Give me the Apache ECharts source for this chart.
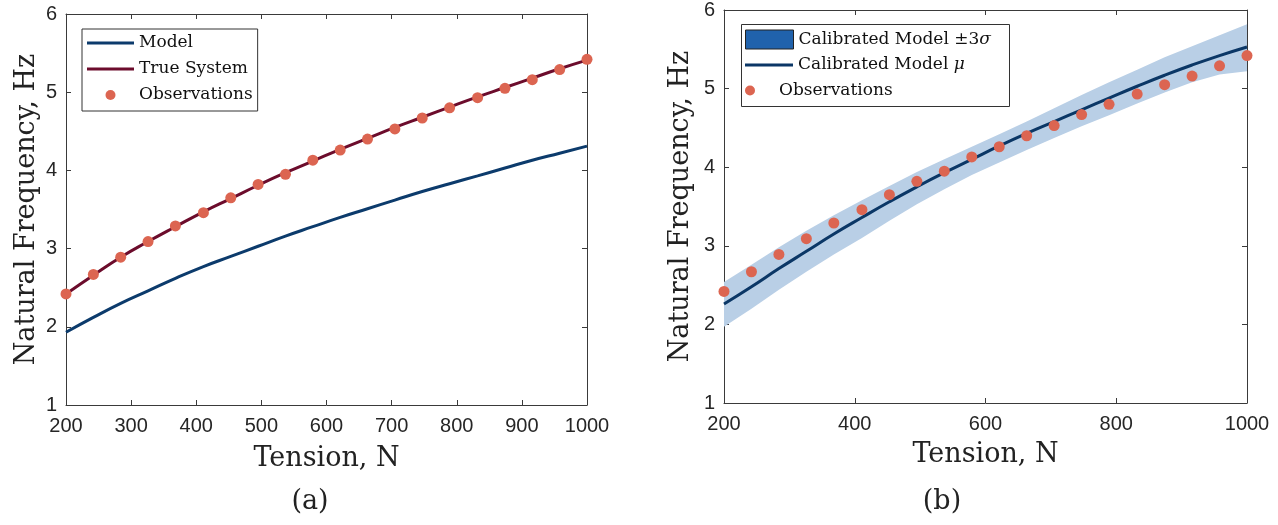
<!DOCTYPE html>
<html>
<head>
<meta charset="utf-8">
<script src="https://cdn.jsdelivr.net/npm/echarts@6.0.0/dist/echarts.min.js"></script>
<style>
    html, body { margin: 0; padding: 0; background: #fff; }
    #freq-chart { width: 1278px; height: 525px; }
</style>
</head>
<body>
<div id="freq-chart"></div>
<script>
// tension values where the observations were taken (N)
let tension = [200, 242, 284, 326, 368, 411, 453, 495, 537, 579, 621, 663, 705, 747, 789, 832, 874, 916, 958, 1000];

// (a) uncalibrated model / true system / observations (Hz)
let modelFreq = [1.93, 2.12, 2.30, 2.46, 2.62, 2.77, 2.90, 3.03, 3.16, 3.28, 3.40, 3.51, 3.62, 3.73, 3.83, 3.93, 4.03, 4.13, 4.22, 4.31];
let trueFreq = [2.42, 2.66, 2.89, 3.09, 3.28, 3.47, 3.64, 3.81, 3.97, 4.12, 4.27, 4.41, 4.55, 4.68, 4.81, 4.94, 5.06, 5.18, 5.30, 5.41];
let obsFreq = [2.42, 2.67, 2.89, 3.09, 3.29, 3.46, 3.65, 3.82, 3.95, 4.13, 4.26, 4.40, 4.53, 4.67, 4.80, 4.93, 5.05, 5.16, 5.29, 5.42];

// (b) calibrated model mean and +-3 sigma band (Hz)
let calMean = [2.26, 2.48, 2.71, 2.93, 3.15, 3.36, 3.56, 3.75, 3.93, 4.10, 4.27, 4.43, 4.58, 4.73, 4.88, 5.03, 5.17, 5.30, 5.42, 5.53];
let calUpper = [2.54, 2.76, 2.98, 3.19, 3.39, 3.58, 3.76, 3.94, 4.10, 4.26, 4.42, 4.58, 4.75, 4.92, 5.08, 5.24, 5.40, 5.54, 5.68, 5.82];
let calLower = [1.97, 2.20, 2.44, 2.67, 2.89, 3.10, 3.32, 3.53, 3.72, 3.90, 4.06, 4.22, 4.37, 4.52, 4.66, 4.81, 4.95, 5.08, 5.18, 5.22];

// axis ranges / tick steps
let xRange = [200, 1000];
let yRange = [1, 6];
let xStepA = 100;
let xStepB = 200;
let yStep = 1;

let serifFont = 'DejaVu Serif';
let sansFont = 'Liberation Sans';
let axisColor = '#3a3a3a';

function pairs(xs, ys){
    return xs.map(function(x, i){ return [x, ys[i]]; });
}

// one axis of the boxed (matlab style) frame, ticks pointing inward
function frameAxis(gridIndex, position, min, max, step, withLabel, name, nameGap, labelMargin){
    let ax = {
        type: 'value',
        gridIndex: gridIndex,
        position: position,
        min: min,
        max: max,
        interval: step,
        axisLine: { show: true, onZero: false, lineStyle: { color: axisColor, width: 1 } },
        axisTick: { show: true, inside: true, length: 5, lineStyle: { color: axisColor, width: 1 } },
        axisLabel: {
            show: withLabel,
            margin: labelMargin,
            color: '#262626',
            fontFamily: sansFont,
            fontSize: 20,
            formatter: function(v){ return String(v); }
        },
        splitLine: { show: false }
    };
    if(name){
        ax.name = name;
        ax.nameLocation = 'middle';
        ax.nameGap = nameGap;
        ax.nameTextStyle = { color: '#222', fontFamily: serifFont, fontSize: 27 };
    }
    return ax;
}

function legendText(name){
    if(name === 'Calibrated Model ±3σ') return 'Calibrated Model ±3{i|σ}';
    if(name === 'Calibrated Model μ') return 'Calibrated Model {i|μ}';
    return name;
}

let legendTextStyle = {
    color: '#111',
    fontFamily: serifFont,
    fontSize: 17,
    lineHeight: 26,
    rich: {
        i: { fontFamily: serifFont, fontSize: 17, fontStyle: 'italic', color: '#111', lineHeight: 26 }
    }
};

let lineIcon = 'path://M0,0h48v3h-48z';

// +-3 sigma band as one polygon: upper edge forward, lower edge back
function renderBand(params, api){
    if(params.dataIndex !== 0) return;
    let pts = [];
    for(let i = 0; i < tension.length; i++){
        pts.push(api.coord([tension[i], calUpper[i]]));
    }
    for(let i = tension.length - 1; i >= 0; i--){
        pts.push(api.coord([tension[i], calLower[i]]));
    }
    return {
        type: 'polygon',
        shape: { points: pts },
        style: { fill: '#b9cfe6', stroke: null }
    };
}

let chart = "";
function optionChart(){
    chart = echarts.init(document.getElementById("freq-chart"));
    chart.setOption(settingOption());
}

function settingOption(){
    let option = {
        animation: false,
        backgroundColor: '#fff',
        grid: [
            { left: 66, top: 14, width: 521, height: 391 },
            { left: 724, top: 9, width: 523, height: 394 }
        ],
        xAxis: [
            frameAxis(0, 'bottom', xRange[0], xRange[1], xStepA, true, 'Tension, N', 40, 11),
            frameAxis(0, 'top', xRange[0], xRange[1], xStepA, false),
            frameAxis(1, 'bottom', xRange[0], xRange[1], xStepB, true, 'Tension, N', 38, 11),
            frameAxis(1, 'top', xRange[0], xRange[1], xStepB, false)
        ],
        yAxis: [
            frameAxis(0, 'left', yRange[0], yRange[1], yStep, true, 'Natural Frequency, Hz', 26, 9),
            frameAxis(0, 'right', yRange[0], yRange[1], yStep, false),
            frameAxis(1, 'left', yRange[0], yRange[1], yStep, true, 'Natural Frequency, Hz', 30, 9),
            frameAxis(1, 'right', yRange[0], yRange[1], yStep, false)
        ],
        legend: [
            {   // (a) legend, one bordered box
                left: 82, top: 29,
                orient: 'vertical',
                padding: [1, 5, 3, 5],
                itemGap: 0,
                itemWidth: 47,
                itemHeight: 10,
                itemTextGap: 5,
                borderColor: '#333', borderWidth: 1,
                backgroundColor: '#fff',
                selectedMode: false,
                textStyle: legendTextStyle,
                data: [
                    { name: 'Model', icon: lineIcon, itemStyle: { color: '#0c3b6c', borderWidth: 0 } },
                    { name: 'True System', icon: lineIcon, itemStyle: { color: '#6c0c2c', borderWidth: 0 } },
                    { name: 'Observations', icon: 'circle', itemStyle: { color: '#dc6551', borderWidth: 0 } }
                ]
            },
            {   // (b) band entry
                left: 745, top: 26.5,
                padding: 0,
                itemWidth: 48, itemHeight: 19, itemTextGap: 4,
                selectedMode: false,
                textStyle: legendTextStyle,
                formatter: legendText,
                data: [{ name: 'Calibrated Model ±3σ', icon: 'rect', itemStyle: { color: '#2062ac', borderColor: '#222', borderWidth: 1 } }]
            },
            {   // (b) mean entry
                left: 745, top: 52,
                padding: 0,
                itemWidth: 48, itemHeight: 10, itemTextGap: 4,
                selectedMode: false,
                textStyle: legendTextStyle,
                formatter: legendText,
                data: [{ name: 'Calibrated Model μ', icon: lineIcon, itemStyle: { color: '#0b3766', borderWidth: 0 } }]
            },
            {   // (b) observations entry
                left: 745, top: 77.5,
                padding: 0,
                itemWidth: 48, itemHeight: 10, itemTextGap: 4,
                selectedMode: false,
                textStyle: legendTextStyle,
                data: [{ name: 'Observations', icon: 'circle', itemStyle: { color: '#dc6551', borderWidth: 0 } }]
            }
        ],
        graphic: [
            // frame round the (b) legend entries
            { type: 'rect', left: 741, top: 24, z: 0,
              shape: { width: 268, height: 82 },
              style: { fill: '#fff', stroke: '#333', lineWidth: 1 } },
            { type: 'text', x: 310, y: 502, style: { text: '(a)', align: 'center', verticalAlign: 'middle', font: '27px "DejaVu Serif"', fill: '#222' } },
            { type: 'text', x: 942, y: 502, style: { text: '(b)', align: 'center', verticalAlign: 'middle', font: '27px "DejaVu Serif"', fill: '#222' } }
        ],
        series: [
            {
                name: 'Model', type: 'line', xAxisIndex: 0, yAxisIndex: 0,
                data: pairs(tension, modelFreq),
                smooth: true, symbol: 'none',
                lineStyle: { color: '#0c3b6c', width: 3 },
                itemStyle: { color: '#0c3b6c' }
            },
            {
                name: 'True System', type: 'line', xAxisIndex: 0, yAxisIndex: 0,
                data: pairs(tension, trueFreq),
                smooth: true, symbol: 'none',
                lineStyle: { color: '#6c0c2c', width: 3 },
                itemStyle: { color: '#6c0c2c' }
            },
            {
                name: 'Observations', type: 'scatter', xAxisIndex: 0, yAxisIndex: 0,
                data: pairs(tension, obsFreq),
                symbolSize: 11, z: 5,
                itemStyle: { color: '#dc6551', opacity: 1 }
            },
            {
                name: 'Calibrated Model ±3σ', type: 'custom', xAxisIndex: 2, yAxisIndex: 2,
                data: pairs(tension, calUpper),
                renderItem: renderBand,
                itemStyle: { color: '#2062ac' },
                z: 1
            },
            {
                name: 'Calibrated Model μ', type: 'line', xAxisIndex: 2, yAxisIndex: 2,
                data: pairs(tension, calMean),
                smooth: true, symbol: 'none',
                lineStyle: { color: '#0b3766', width: 3 },
                itemStyle: { color: '#0b3766' },
                z: 3
            },
            {
                name: 'Observations', type: 'scatter', xAxisIndex: 2, yAxisIndex: 2,
                data: pairs(tension, obsFreq),
                symbolSize: 11, z: 5,
                itemStyle: { color: '#dc6551', opacity: 1 }
            }
        ]
    };
    return option;
}

optionChart();
</script>
</body>
</html>
